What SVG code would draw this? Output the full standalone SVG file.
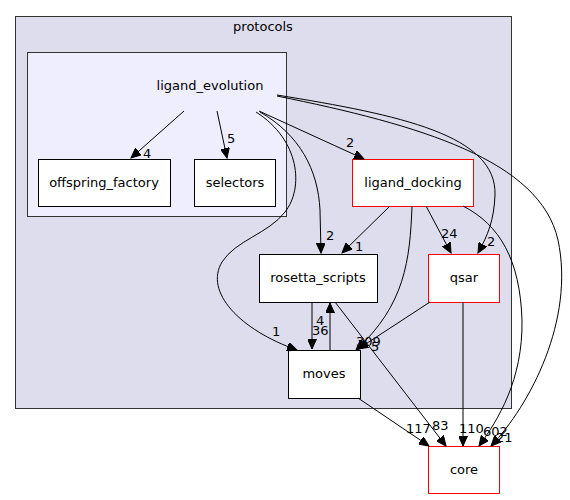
<svg xmlns="http://www.w3.org/2000/svg" width="570" height="500" viewBox="0 0 570 500">
<defs>
<marker id="ah" markerUnits="userSpaceOnUse" markerWidth="11" markerHeight="9" refX="10" refY="4.5" orient="auto">
<path d="M0,0 L10,4.5 L0,9 z" fill="#000" stroke="#000" stroke-width="1"/>
</marker>
<style>
text{font-family:"DejaVu Sans","Liberation Sans",sans-serif;font-size:13px;fill:#000}
.lbl{text-anchor:middle}
.node{fill:#fff;stroke:#000;stroke-width:1}
.red{fill:#fff;stroke:#ff0000;stroke-width:1}
.e{fill:none;stroke:#000;stroke-width:1;marker-end:url(#ah)}
</style>
</defs>
<rect width="570" height="500" fill="#fff"/>
<g id="cluster_protocols">
<rect x="15.5" y="16.5" width="496" height="392" fill="#ddddee" stroke="#333"/>
<text class="lbl" x="263" y="31">protocols</text>
</g>
<g id="cluster_ligand_evolution">
<rect x="27.5" y="52.5" width="259" height="164" fill="#eeeeff" stroke="#333"/>
<text class="lbl" x="210" y="90">ligand_evolution</text>
</g>
<g id="offspring_factory">
<rect class="node" x="38.5" y="159.5" width="132" height="47"/>
<text class="lbl" x="104" y="187">offspring_factory</text>
</g>
<g id="selectors">
<rect class="node" x="194.5" y="159.5" width="81" height="47"/>
<text class="lbl" x="235" y="187">selectors</text>
</g>
<g id="ligand_docking">
<rect class="red" x="352.5" y="159.5" width="121" height="47"/>
<text class="lbl" x="413" y="187">ligand_docking</text>
</g>
<g id="rosetta_scripts">
<rect class="node" x="259.5" y="254.5" width="118" height="48"/>
<text class="lbl" x="318" y="282">rosetta_scripts</text>
</g>
<g id="qsar">
<rect class="red" x="428.5" y="254.5" width="71" height="48"/>
<text class="lbl" x="464" y="282">qsar</text>
</g>
<g id="moves">
<rect class="node" x="288.5" y="350.5" width="72" height="48"/>
<text class="lbl" x="324" y="378">moves</text>
</g>
<g id="core">
<rect class="red" x="428.5" y="446.5" width="71" height="47"/>
<text class="lbl" x="464" y="474">core</text>
</g>
<g id="edges">
<path class="e" d="M184,111 L131,158"/>
<text x="143" y="158">4</text>
<path class="e" d="M217,111 L227,158"/>
<text x="227" y="143">5</text>
<path class="e" d="M259,111 L364,159"/>
<text x="346" y="147">2</text>
<path class="e" d="M260,112 C300,135 318,170 320,210 L321,253"/>
<text x="326" y="240">2</text>
<path class="e" d="M256,112 C300,140 304,188 285,212 C268,234 236,240 222,262 C204,292 240,330 297,350"/>
<text x="272" y="336">1</text>
<path class="e" d="M277,95 C400,115 497,135 495,195 C494,220 488,235 478,253"/>
<text x="487" y="246">2</text>
<path class="e" d="M277,96 C420,125 540,160 558,240 C575,320 530,405 491,446"/>
<text x="496" y="442">21</text>
<path class="e" d="M390,206 L342,253"/>
<text x="355" y="251">1</text>
<path class="e" d="M426,206 L451,253"/>
<text x="441" y="238">24</text>
<path class="e" d="M412,206 C410,260 405,305 356,350"/>
<text x="356" y="346">309</text>
<path class="e" d="M463,206 C500,225 520,260 522,320 C523,380 498,420 479,446"/>
<text x="483" y="436">602</text>
<path class="e" d="M312,302 L312,349"/>
<text x="312" y="335">36</text>
<path class="e" d="M330,350 L330,303"/>
<text x="316" y="325">4</text>
<path class="e" d="M335,302 L446,446"/>
<text x="432" y="430">83</text>
<path class="e" d="M430,302 L358,349"/>
<text x="371" y="351">5</text>
<path class="e" d="M463,302 L463,446"/>
<text x="459" y="433">110</text>
<path class="e" d="M358,398 L429,446"/>
<text x="406" y="433">117</text>
</g>
</svg>
